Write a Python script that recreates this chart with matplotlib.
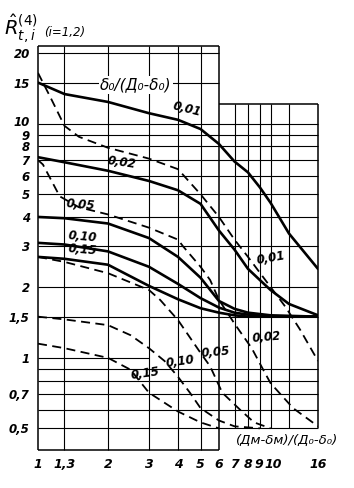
import matplotlib
matplotlib.use("Agg")
import matplotlib.pyplot as plt
from matplotlib.ticker import NullLocator
from matplotlib.transforms import ScaledTranslation

# solid curves, delta0/(D0-delta0) = 0.01 ... 0.15
x_s001 = [1, 1.3, 2, 3, 4, 5, 6, 7, 8, 9, 10, 12, 16]
y_s001 = [15, 13.4, 12.4, 11.1, 10.4, 9.5, 8.2, 6.9, 6.2, 5.35, 4.6, 3.4, 2.4]
x_s002 = [1, 1.3, 2, 3, 4, 5, 6, 7, 8, 9, 10, 12, 16]
y_s002 = [7.2, 6.85, 6.3, 5.7, 5.2, 4.55, 3.5, 2.9, 2.4, 2.15, 1.95, 1.7, 1.52]
x_s005 = [1, 1.3, 2, 3, 4, 5, 6, 7, 8, 10, 16]
y_s005 = [4.0, 3.95, 3.75, 3.25, 2.7, 2.2, 1.75, 1.62, 1.56, 1.52, 1.5]
x_s010 = [1, 1.3, 2, 3, 4, 5, 6, 7, 8, 10, 16]
y_s010 = [3.1, 3.05, 2.85, 2.45, 2.07, 1.8, 1.64, 1.56, 1.53, 1.5, 1.5]
x_s015 = [1, 1.3, 2, 3, 4, 5, 6, 7, 8, 16]
y_s015 = [2.7, 2.65, 2.5, 2.03, 1.78, 1.63, 1.56, 1.52, 1.5, 1.5]

# dashed curves
x_d001 = [1, 1.13, 1.3, 1.5, 2, 3, 4, 5, 6, 7, 8, 9.5, 11.6, 13.4, 16]
y_d001 = [16.5, 13, 9.8, 8.8, 7.9, 7.1, 6.4, 5.0, 4.0, 3.2, 2.7, 2.15, 1.65, 1.32, 0.97]
x_d002 = [1, 1.05, 1.24, 1.5, 2, 3, 4, 4.2, 5, 5.5, 6, 7, 8.3, 9.3, 10, 12.5, 16]
y_d002 = [7.0, 6.7, 4.9, 4.4, 4.1, 3.6, 3.2, 3.0, 2.45, 2.15, 1.77, 1.4, 1.1, 0.89, 0.78, 0.61, 0.51]
x_d005 = [1, 1.3, 2, 3, 3.35, 4, 5, 5.5, 6.2, 7.4, 8.5, 10]
y_d005 = [2.7, 2.57, 2.3, 1.95, 1.77, 1.45, 1.05, 0.92, 0.71, 0.6, 0.53, 0.5]
x_d010 = [1, 1.3, 2, 2.5, 3, 3.5, 4, 4.5, 5, 6, 7, 9]
y_d010 = [1.5, 1.46, 1.38, 1.25, 1.1, 0.97, 0.83, 0.71, 0.61, 0.54, 0.51, 0.5]
x_d015 = [1, 1.3, 2, 2.5, 3, 4, 5, 6]
y_d015 = [1.15, 1.1, 1.0, 0.89, 0.71, 0.59, 0.53, 0.5]

x_ticks = [1, 1.3, 2, 3, 4, 5, 6, 7, 8, 9, 10, 16]
x_ticklabels = ["1", "1,3", "2", "3", "4", "5", "6", "7", "8", "9", "10", "16"]
y_ticks = [0.5, 0.7, 1, 1.5, 2, 3, 4, 5, 6, 7, 8, 9, 10, 15, 20]
y_ticklabels = ["0,5", "0,7", "1", "1,5", "2", "3", "4", "5", "6", "7", "8", "9", "10", "15", "20"]

# grid of the nomogram (stepped outline)
x_grid_left = [1.3, 2, 3, 4, 5]
x_grid_right = [7, 8, 9, 10, 12]
y_grid_full = [0.5, 0.6, 0.7, 0.8, 0.9, 1.5, 2, 3, 4, 5, 6, 7, 8, 9, 10]
y_grid_left = [15, 20]

XMIN, XMAX = 1, 16
YMIN, YMAX = 0.404, 21.5
XSTEP, YSTEP = 6, 12.2

fig = plt.figure(figsize=(3.54, 4.88), dpi=100)
ax = fig.add_axes([38 / 354, 38 / 488, 280 / 354, 404 / 488])
ax.set_xscale("log")
ax.set_yscale("log")
ax.set_xlim(XMIN, XMAX)
ax.set_ylim(YMIN, YMAX)
for s in ax.spines.values():
    s.set_visible(False)

gkw = dict(color="black", lw=0.8, clip_on=False, zorder=1)
ax.vlines(x_grid_left, YMIN, YMAX, **gkw)
ax.vlines(x_grid_right, 0.5, YSTEP, **gkw)
ax.hlines(y_grid_full, XMIN, XMAX, **gkw)
ax.hlines(y_grid_left, XMIN, XSTEP, **gkw)
ax.hlines(1.0, XMIN, 3, **gkw)

# outline
fkw = dict(color="black", lw=1.1, clip_on=False, zorder=1)
ax.vlines(XMIN, YMIN, YMAX, **fkw)
ax.vlines(XSTEP, YMIN, YMAX, **fkw)
ax.vlines(XMAX, 0.5, YSTEP, **fkw)
ax.hlines(YMIN, XMIN, XSTEP, **fkw)
ax.hlines(YMAX, XMIN, XSTEP, **fkw)
ax.hlines(YSTEP, XSTEP, XMAX, **fkw)

skw = dict(color="black", lw=1.9, solid_capstyle="round", zorder=3)
for xs, ys in [(x_s001, y_s001), (x_s002, y_s002), (x_s005, y_s005),
               (x_s010, y_s010), (x_s015, y_s015)]:
    ax.plot(xs, ys, **skw)

dkw = dict(color="black", lw=1.3, dashes=(5, 3), zorder=3)
for xs, ys in [(x_d001, y_d001), (x_d002, y_d002), (x_d005, y_d005),
               (x_d010, y_d010), (x_d015, y_d015)]:
    ax.plot(xs, ys, **dkw)

ax.xaxis.set_minor_locator(NullLocator())
ax.yaxis.set_minor_locator(NullLocator())
ax.set_xticks(x_ticks)
ax.set_xticklabels(x_ticklabels)
ax.set_yticks(y_ticks)
ax.set_yticklabels(y_ticklabels)
ax.tick_params(axis="x", length=0, labelsize=9, pad=6)
ax.tick_params(axis="y", length=0, labelsize=8.5, pad=6)
for t in ax.get_xticklabels() + ax.get_yticklabels():
    t.set_style("italic")
    t.set_fontweight("bold")

# nudge the crowded labels apart
px = fig.dpi_scale_trans
xl = ax.get_xticklabels()
xl[9].set_transform(xl[9].get_transform() + ScaledTranslation(-1.5 / 100, 0, px))
xl[10].set_transform(xl[10].get_transform() + ScaledTranslation(3 / 100, 0, px))
yl = ax.get_yticklabels()
yl[12].set_transform(yl[12].get_transform() + ScaledTranslation(0, 2.5 / 100, px))
yl[11].set_transform(yl[11].get_transform() + ScaledTranslation(0, -0.5 / 100, px))

lkw = dict(fontsize=8.5, style="italic", fontweight="bold", ha="center",
           va="center", zorder=4)
ax.text(4.35, 11.5, "0,01", rotation=-14, **lkw)
ax.text(2.3, 6.8, "0,02", rotation=-8, **lkw)
ax.text(1.52, 4.5, "0,05", rotation=-5, **lkw)
ax.text(1.55, 3.3, "0,10", rotation=-5, **lkw)
ax.text(1.55, 2.9, "0,15", rotation=-5, **lkw)
ax.text(10.0, 2.67, "0,01", rotation=10, **lkw)
ax.text(9.6, 1.23, "0,02", rotation=5, **lkw)
ax.text(5.8, 1.06, "0,05", rotation=5, **lkw)
ax.text(4.1, 0.96, "0,10", rotation=8, **lkw)
ax.text(2.9, 0.86, "0,15", rotation=8, **lkw)

ax.text(2.64, 14.7, "δ₀/(Д₀-δ₀)", fontsize=11, style="italic", ha="center",
        va="center", zorder=4,
        bbox=dict(facecolor="white", edgecolor="none", pad=1))
ax.text(11.8, 0.445, "(Дм-δм)/(Д₀-δ₀)", fontsize=9.5, style="italic",
        ha="center", va="center", clip_on=False, zorder=4)

fig.text(0.012, 0.925, r"$\hat{R}^{(4)}_{t,i}$", fontsize=14)
fig.text(0.125, 0.926, "(i=1,2)", fontsize=8.5, style="italic")

fig.savefig("out.png", dpi=100)
